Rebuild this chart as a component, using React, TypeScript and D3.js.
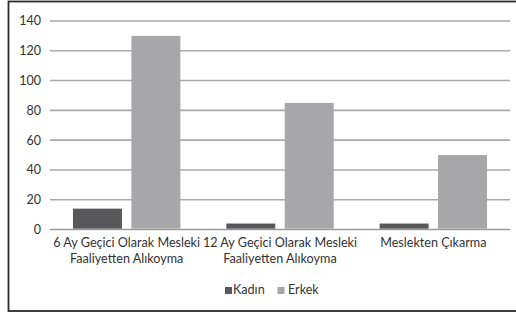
import * as d3 from 'd3'
import * as React from 'react'

// chart data
const categories: string[][] = [
  ['6 Ay Geçici Olarak Mesleki', 'Faaliyetten Alıkoyma'],
  ['12 Ay Geçici Olarak Mesleki', 'Faaliyetten Alıkoyma'],
  ['Meslekten Çıkarma'],
]
const seriesNames: string[] = ['Kadın', 'Erkek']
const kadinValues: number[] = [14, 4, 4]
const erkekValues: number[] = [130, 85, 50]
const yTicks: number[] = [0, 20, 40, 60, 80, 100, 120, 140]

const colors: { [k: string]: string } = { 'Kadın': '#58585a', 'Erkek': '#a7a7a9' }
const FONT = 'Lato, "Open Sans", sans-serif'

export default function App() {
  const width = 516
  const height = 313
  const left = 50
  const right = 510
  const top = 21
  const bottom = 229.5

  const catKeys = categories.map((c) => c.join(' '))
  const x0 = d3.scaleBand<string>().domain(catKeys).range([left, right]).padding(0)
  const x1 = d3.scaleBand<string>()
    .domain(seriesNames)
    .range([0, x0.bandwidth()])
    .paddingInner(0.162)
    .paddingOuter(0.393)
  const y = d3.scaleLinear().domain([0, 140]).range([bottom, top])

  const series = [
    { name: 'Kadın', values: kadinValues },
    { name: 'Erkek', values: erkekValues },
  ]

  return (
    <svg width={width} height={height} style={{ position: 'absolute', left: 0, top: 0, background: '#fff' }}>
      <rect x={8.5} y={1.5} width={520} height={309.5} fill="#fff" stroke="#2b2b2b" strokeWidth={1.8} />
      {/* grid */}
      {yTicks.map((t) => (
        <g key={t}>
          <line x1={left} x2={right} y1={y(t)} y2={y(t)} stroke={t === 0 ? '#9a9a9a' : '#a9a9a9'} strokeWidth={1.6} />
          <text x={41} y={y(t)} dy="0.35em" textAnchor="end" fontFamily={FONT} fontSize={12.5} fill="#333">
            {t}
          </text>
        </g>
      ))}
      {/* bars */}
      {series.map((s) => (
        <g key={s.name} fill={colors[s.name]}>
          {s.values.map((v, i) => (
            <rect
              key={i}
              x={x0(catKeys[i])! + x1(s.name)!}
              y={y(v)}
              width={x1.bandwidth()}
              height={y(0) - y(v) - 0.8}
            />
          ))}
        </g>
      ))}
      {/* category labels */}
      {categories.map((lines, i) => (
        <text
          key={i}
          x={x0(catKeys[i])! + x0.bandwidth() / 2}
          y={247}
          textAnchor="middle"
          fontFamily={FONT}
          fontSize={12.6}
          fill="#333"
        >
          {lines.map((l, j) => (
            <tspan key={j} x={x0(catKeys[i])! + x0.bandwidth() / 2} dy={j === 0 ? 0 : 16}>
              {l}
            </tspan>
          ))}
        </text>
      ))}
      {/* legend */}
      <g fontFamily={FONT} fontSize={12.6} fill="#333">
        <rect x={225} y={287} width={7} height={7} fill={colors['Kadın']} />
        <text x={233} y={294}>Kadın</text>
        <rect x={277.5} y={287} width={7} height={7} fill={colors['Erkek']} />
        <text x={288} y={294}>Erkek</text>
      </g>
    </svg>
  )
}
